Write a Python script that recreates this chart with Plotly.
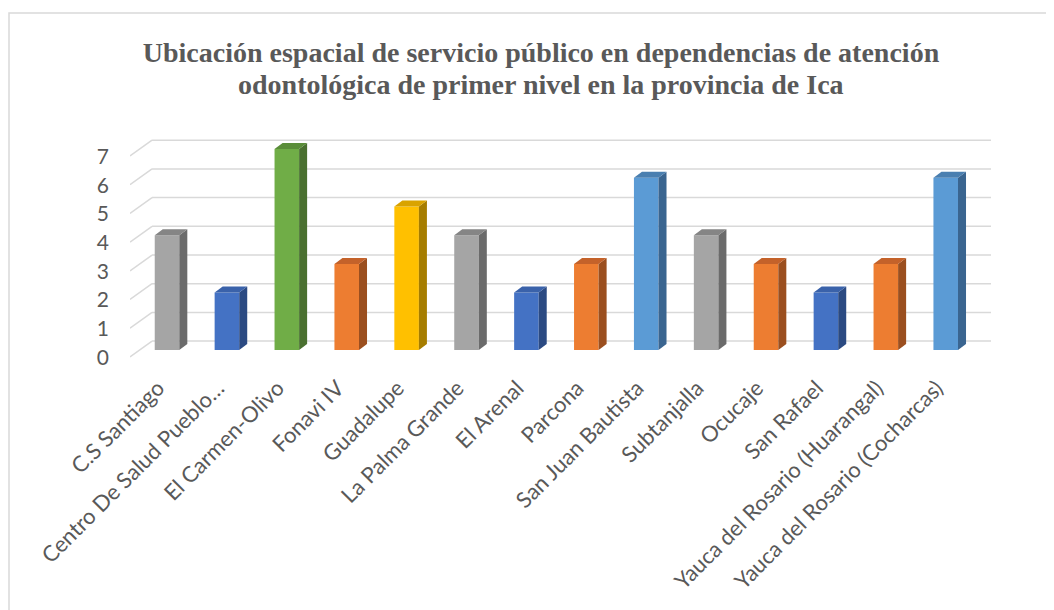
import plotly.graph_objects as go

categories = [
    "C.S Santiago", "Centro De Salud Pueblo…", "El Carmen-Olivo", "Fonavi IV",
    "Guadalupe", "La Palma Grande", "El Arenal", "Parcona", "San Juan Bautista",
    "Subtanjalla", "Ocucaje", "San Rafael", "Yauca del Rosario (Huarangal)",
    "Yauca del Rosario (Cocharcas)",
]
values = [4, 2, 7, 3, 5, 4, 2, 3, 6, 4, 3, 2, 3, 6]
y_ticks = [0, 1, 2, 3, 4, 5, 6, 7]

# front / top / side colours, keyed by bar height as in the source chart
palette = {
    2: ("#4472C4", "#3A62AA", "#2B4A82"),
    3: ("#ED7D31", "#C4622A", "#9B4F1F"),
    4: ("#A5A5A5", "#858585", "#6B6B6B"),
    5: ("#FFC000", "#D9A300", "#A67D00"),
    6: ("#5B9BD5", "#4A7FB0", "#3A6590"),
    7: ("#70AD47", "#5A8D39", "#4A7030"),
}

W = 0.41      # bar width (category units)
DX = 0.134    # depth offset, x
DY = 0.21     # depth offset, y
GRID_DY = 0.31
FRONT_DY = -0.24
LABEL_DX = -0.15
X0, X1 = -0.618, 13.756
Y0, Y1 = -0.348, 7.666
PAGE = 8      # body margin of the html page

xs = list(range(len(categories)))
fig = go.Figure()

fig.add_trace(go.Bar(
    x=xs, y=values, width=W,
    marker=dict(color=[palette[v][0] for v in values], line=dict(width=0)),
    hoverinfo="skip",
))

for x, v in zip(xs, values):
    front, top, side = palette[v]
    r = x + W / 2
    l = x - W / 2
    fig.add_trace(go.Scatter(
        x=[r, r + DX, r + DX, r, r], y=[0, DY, v + DY, v, 0],
        mode="lines", fill="toself", fillcolor=side, line=dict(width=0),
        hoverinfo="skip",
    ))
    fig.add_trace(go.Scatter(
        x=[l, l + DX, r + DX, r, l], y=[v, v + DY, v + DY, v, v],
        mode="lines", fill="toself", fillcolor=top, line=dict(width=0),
        hoverinfo="skip",
    ))

# invisible trace so the label axis gets drawn
fig.add_trace(go.Scatter(
    x=[X0] * len(y_ticks), y=y_ticks, yaxis="y2", mode="markers",
    marker=dict(opacity=0), hoverinfo="skip",
))

# back-wall gridlines and floor diagonals
for t in y_ticks:
    fig.add_shape(type="line", xref="x", yref="y", layer="below",
                  x0=-0.25, x1=X1, y0=t + GRID_DY, y1=t + GRID_DY,
                  line=dict(color="#D9D9D9", width=1.5))
    fig.add_shape(type="line", xref="x", yref="y", layer="below",
                  x0=X0, x1=-0.25, y0=t + FRONT_DY, y1=t + GRID_DY,
                  line=dict(color="#D9D9D9", width=1.5))

# outer chart border
fig.add_shape(type="rect", xref="paper", yref="paper",
              x0=(9 - 130) / 861, x1=(1070 - 130) / 861,
              y0=(360 - 630) / 230, y1=(360 - 13) / 230,
              line=dict(color="#D9D9D9", width=1.5))

title_font = dict(family="Liberation Serif", size=28, color="#595959")
fig.add_annotation(
    text="<b>odontológica de primer nivel en la provincia de Ica</b>",
    xref="paper", yref="paper", x=(541 - 130) / 861, y=(360 - 84) / 230,
    xanchor="center", yanchor="middle", showarrow=False, font=title_font,
)

fig.update_layout(
    width=1054, height=610,
    margin=dict(l=130 - PAGE, r=1054 - 991 + PAGE, t=130 - PAGE, b=610 - 360 + PAGE),
    paper_bgcolor="white", plot_bgcolor="white",
    showlegend=False,
    title=dict(
        text="<b>Ubicación espacial de servicio público en dependencias de atención</b>",
        x=(541 - PAGE) / 1054, xanchor="center", xref="container",
        y=1 - (52 - PAGE) / 610, yanchor="middle", yref="container",
        font=title_font,
    ),
    xaxis=dict(
        range=[X0, X1], tickvals=[x + LABEL_DX for x in xs], ticktext=categories,
        tickangle=-45, showgrid=False, zeroline=False, showline=False, ticks="",
        automargin=False, ticklabelstandoff=10,
        tickfont=dict(family="Lato", size=22, color="#595959"),
    ),
    yaxis=dict(range=[Y0, Y1], showgrid=False, zeroline=False,
               showticklabels=False, showline=False, automargin=False),
    yaxis2=dict(
        range=[Y0 + 0.26, Y1 + 0.26], overlaying="y", side="left",
        tickvals=y_ticks, showgrid=False, zeroline=False, showline=False,
        ticks="", ticklabelstandoff=20, automargin=False,
        tickfont=dict(family="Lato", size=21, color="#595959"),
    ),
)

fig.write_html("out.html")
